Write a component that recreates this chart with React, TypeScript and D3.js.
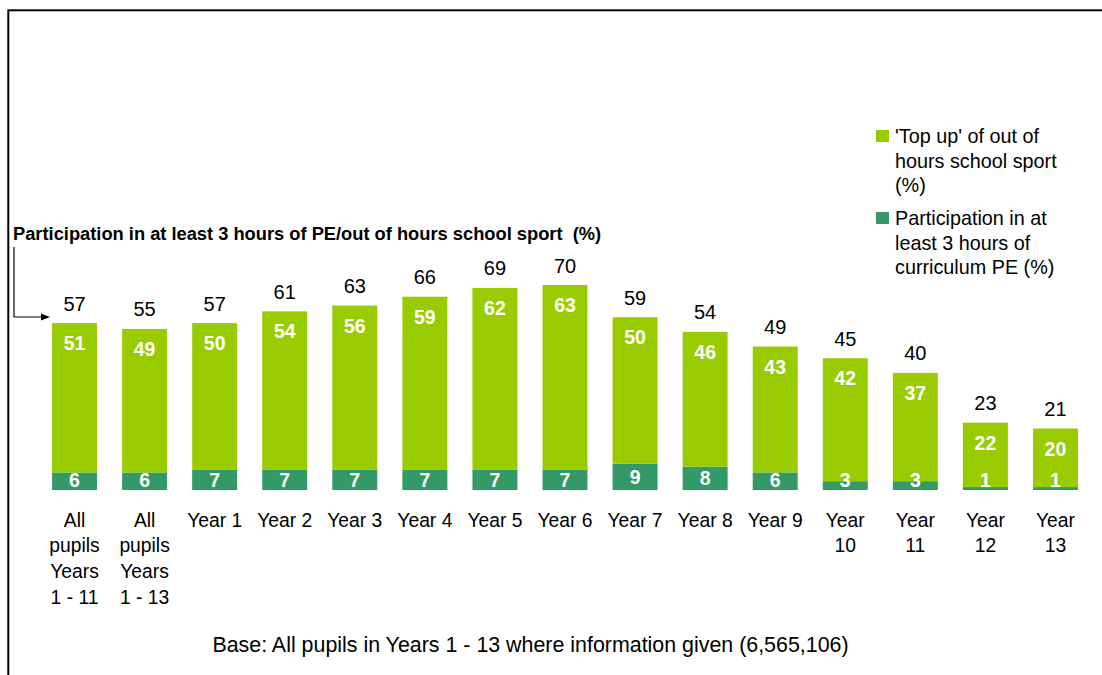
import React from "react";
import * as d3 from "d3";

const categoryLines: string[][] = [
  ["All", "pupils", "Years", "1 - 11"],
  ["All", "pupils", "Years", "1 - 13"],
  ["Year 1"],
  ["Year 2"],
  ["Year 3"],
  ["Year 4"],
  ["Year 5"],
  ["Year 6"],
  ["Year 7"],
  ["Year 8"],
  ["Year 9"],
  ["Year", "10"],
  ["Year", "11"],
  ["Year", "12"],
  ["Year", "13"],
];
const categories = categoryLines.map((l) => l.join(" "));
const curriculumPE = [6, 6, 7, 7, 7, 7, 7, 7, 9, 8, 6, 3, 3, 1, 1];
const topUp = [51, 49, 50, 54, 56, 59, 62, 63, 50, 46, 43, 42, 37, 22, 20];
const totals = [57, 55, 57, 61, 63, 66, 69, 70, 59, 54, 49, 45, 40, 23, 21];

const legendTopUp = ["'Top up' of out of", "hours school sport", "(%)"];
const legendPE = ["Participation in at", "least 3 hours of", "curriculum PE (%)"];
const annotation = "Participation in at least 3 hours of PE/out of hours school sport  (%)";
const baseNote = "Base: All pupils in Years 1 - 13 where information given (6,565,106)";

const LIGHT = "#99CC00";
const DARK = "#339966";
const FONT = "'Liberation Sans', Arial, Helvetica, sans-serif";

export default function App() {
  const W = 1102;
  const H = 675;
  const x = d3
    .scaleBand<string>()
    .domain(categories)
    .range([39.5, 1090.5])
    .paddingInner(0.358)
    .paddingOuter(0.179);
  const y = d3.scaleLinear().domain([0, 70]).range([490, 285]);
  const bw = x.bandwidth();

  return (
    <div style={{ position: "absolute", left: 0, top: 0 }}>
      <svg width={W} height={H} style={{ display: "block", fontFamily: FONT }}>
        <rect x={0} y={0} width={W} height={H} fill="#fff" />
        <rect x={8.3} y={10.3} width={1200} height={900} fill="none" stroke="#000" strokeWidth={2} />

        {categories.map((c, i) => {
          const x0 = x(c)!;
          const cx = x0 + bw / 2;
          const yPE = y(curriculumPE[i]);
          const yTop = y(curriculumPE[i] + topUp[i]);
          const peMid = Math.min((y(0) + yPE) / 2, 479.5);
          return (
            <g key={c}>
              <rect x={x0} y={yPE} width={bw} height={y(0) - yPE} fill={DARK} />
              <rect x={x0} y={yTop} width={bw} height={yPE - yTop} fill={LIGHT} />
              <text x={cx} y={yTop + 20} textAnchor="middle" dominantBaseline="central" fill="#fff" fontWeight="bold" fontSize={19.5}>
                {topUp[i]}
              </text>
              <text x={cx} y={peMid} textAnchor="middle" dominantBaseline="central" fill="#fff" fontWeight="bold" fontSize={19.5}>
                {curriculumPE[i]}
              </text>
              <text x={cx} y={y(totals[i]) - 19.5} textAnchor="middle" dominantBaseline="central" fill="#000" fontSize={20}>
                {totals[i]}
              </text>
              {categoryLines[i].map((line, j) => (
                <text key={j} x={cx} y={520 + j * 25.7} textAnchor="middle" dominantBaseline="central" fill="#000" fontSize={19.3}>
                  {line}
                </text>
              ))}
            </g>
          );
        })}

        {/* annotation */}
        <text x={13} y={233} dominantBaseline="central" fontWeight="bold" fontSize={18.3} fill="#000" style={{ whiteSpace: "pre" }}>
          {annotation}
        </text>
        <path d="M14,247 V317 H42" fill="none" stroke="#000" strokeWidth={1.2} />
        <path d="M50,317 L41,313.5 L41,320.5 Z" fill="#000" />

        {/* legend */}
        <rect x={876} y={130} width={13} height={12} fill={LIGHT} />
        {legendTopUp.map((t, j) => (
          <text key={j} x={895} y={136 + j * 24.5} dominantBaseline="central" fontSize={19.8} fill="#000">
            {t}
          </text>
        ))}
        <rect x={876} y={212} width={13} height={12} fill={DARK} />
        {legendPE.map((t, j) => (
          <text key={j} x={895} y={218 + j * 24.5} dominantBaseline="central" fontSize={19.8} fill="#000">
            {t}
          </text>
        ))}

        <text x={530.5} y={645} textAnchor="middle" dominantBaseline="central" fontSize={21.4} fill="#000">
          {baseNote}
        </text>
      </svg>
    </div>
  );
}
